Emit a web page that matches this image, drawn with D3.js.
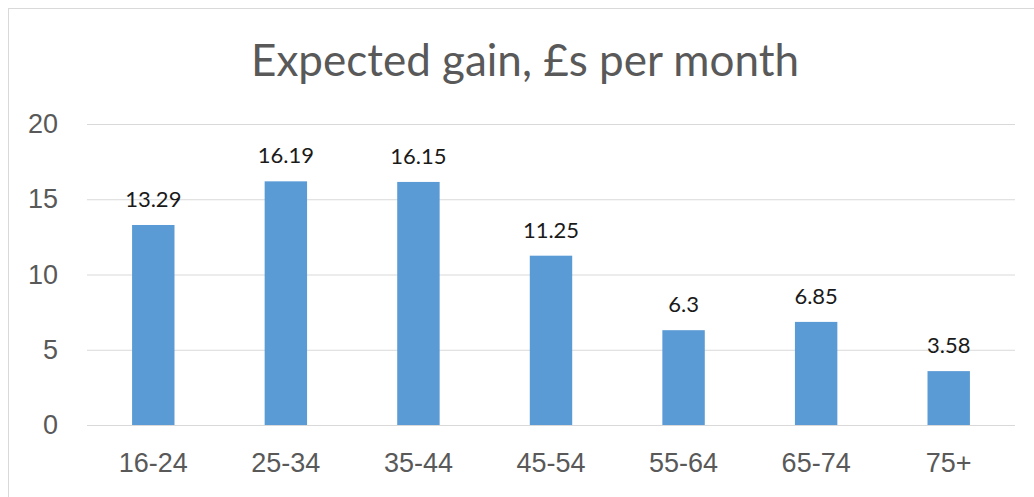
<!DOCTYPE html>
<html>
<head>
<meta charset="utf-8">
<script src="https://cdn.jsdelivr.net/npm/d3@7"></script>
<style>
  body { margin: 0; background: #fff; }
  svg { display: block; font-family: Lato, "Open Sans", sans-serif; }
</style>
</head>
<body>
<svg id="chart" width="1034" height="497"></svg>
<script>
// Chart data
const AGE_GROUPS = ['16-24', '25-34', '35-44', '45-54', '55-64', '65-74', '75+']
const GAIN = [13.29, 16.19, 16.15, 11.25, 6.3, 6.85, 3.58]
const Y_TICKS = [0, 5, 10, 15, 20]
const TITLE = 'Expected gain, £s per month'

const BAR_COLOR = '#5b9bd5'
const GRID_COLOR = '#d9d9d9'
const TEXT_COLOR = '#595959'

const svg = d3.select('#chart')

//Outer chart border
svg.append('rect')
  .attr('x', 8.5).attr('y', 8.5)
  .attr('width', 1040).attr('height', 500)
  .attr('fill', 'none')
  .attr('stroke', GRID_COLOR)

const plot = { left: 87, right: 1015, top: 124, bottom: 425 }

const x = d3.scaleBand()
  .domain(AGE_GROUPS)
  .range([plot.left, plot.right])
  .paddingInner(0.68)
  .paddingOuter(0.34)

const y = d3.scaleLinear()
  .domain([0, 20])
  .range([plot.bottom, plot.top])

//Title
svg.append('text')
  .attr('x', 525).attr('y', 76)
  .attr('text-anchor', 'middle')
  .attr('fill', TEXT_COLOR)
  .style('font-size', '44px')
  .text(TITLE)

//Gridlines + y labels
const yAxis = d3.axisLeft(y).tickValues(Y_TICKS)
  .tickSize(-(plot.right - plot.left)).tickPadding(29)
const gy = svg.append('g')
  .attr('transform', `translate(${plot.left},0)`)
  .call(yAxis)
gy.select('.domain').remove()
gy.selectAll('.tick line').attr('stroke', GRID_COLOR).attr('stroke-width', 1)
gy.selectAll('.tick text')
  .attr('fill', TEXT_COLOR)
  .style('font-size', '27px')
  .attr('font-family', null)

//x labels
const xAxis = d3.axisBottom(x).tickSize(0).tickPadding(28)
const gx = svg.append('g')
  .attr('transform', `translate(0,${plot.bottom})`)
  .call(xAxis)
gx.select('.domain').remove()
gx.selectAll('.tick text')
  .attr('fill', TEXT_COLOR)
  .style('font-size', '27px')
  .attr('font-family', null)

//Bars
svg.append('g').selectAll('rect')
  .data(AGE_GROUPS)
  .join('rect')
  .attr('x', d => x(d))
  .attr('width', x.bandwidth())
  .attr('y', (d, i) => y(GAIN[i]))
  .attr('height', (d, i) => y(0) - y(GAIN[i]))
  .attr('fill', BAR_COLOR)

//Baseline on top of bars
svg.append('line')
  .attr('x1', plot.left).attr('x2', plot.right)
  .attr('y1', y(0) + 0.5).attr('y2', y(0) + 0.5)
  .attr('stroke', GRID_COLOR)

//Data labels
svg.append('g').selectAll('text')
  .data(AGE_GROUPS)
  .join('text')
  .attr('x', d => x(d) + x.bandwidth() / 2)
  .attr('y', (d, i) => y(GAIN[i]) - 18)
  .attr('text-anchor', 'middle')
  .attr('fill', '#1a1a1a')
  .style('font-size', '22px')
  .text((d, i) => GAIN[i])
</script>
</body>
</html>
